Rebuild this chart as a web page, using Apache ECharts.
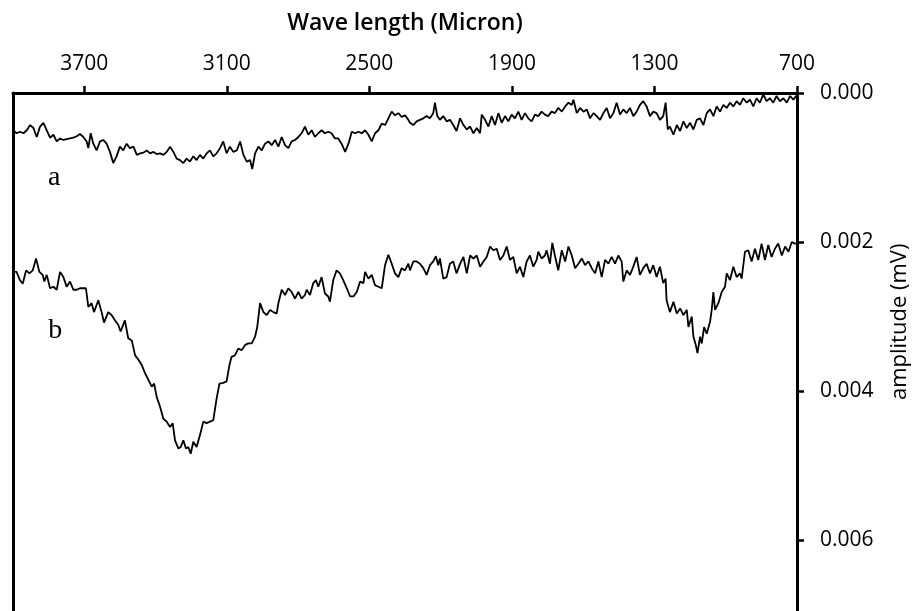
<!DOCTYPE html>
<html>
<head>
<meta charset="utf-8">
<script src="https://cdn.jsdelivr.net/npm/echarts@6/dist/echarts.min.js"></script>
<style>
html,body{margin:0;padding:0;background:#fff;}
#chart{width:914px;height:611px;}
</style>
</head>
<body>
<div id="chart"></div>
<script>
const xTitle = 'Wave length (Micron)';
const yTitle = 'amplitude (mV)';
const wavelengthTicks = [3700, 3100, 2500, 1900, 1300, 700];
const amplitudeTicks = [0, 0.002, 0.004, 0.006];
const curveLabels = ['a', 'b'];
const labelAnchors = [[3826, 0.00114], [3822, 0.00319]];

const seriesA = [
[4000,0.00050],[3985,0.00054],[3971,0.00052],[3956,0.00054],[3942,0.00050],[3928,0.00043],[3914,0.00047],[3900,0.00059],[3886,0.00045],[3872,0.00040],[3858,0.00050],[3844,0.00060],[3830,0.00056],[3816,0.00065],[3802,0.00061],[3788,0.00063],[3774,0.00062],[3760,0.00061],[3746,0.00060],[3732,0.00058],[3718,0.00055],[3704,0.00059],[3690,0.00065],[3683,0.00074],[3673,0.00054],[3662,0.00068],[3648,0.00077],[3634,0.00065],[3620,0.00063],[3606,0.00068],[3592,0.00079],[3578,0.00094],[3564,0.00085],[3550,0.00072],[3536,0.00077],[3522,0.00068],[3508,0.00074],[3493,0.00072],[3479,0.00083],[3465,0.00081],[3451,0.00080],[3437,0.00077],[3423,0.00081],[3409,0.00079],[3395,0.00082],[3381,0.00081],[3367,0.00083],[3353,0.00079],[3339,0.00072],[3325,0.00079],[3311,0.00088],[3297,0.00090],[3283,0.00094],[3269,0.00088],[3255,0.00092],[3241,0.00085],[3227,0.00090],[3213,0.00083],[3199,0.00088],[3185,0.00081],[3171,0.00077],[3157,0.00085],[3143,0.00081],[3129,0.00074],[3115,0.00065],[3101,0.00081],[3087,0.00072],[3073,0.00079],[3058,0.00077],[3044,0.00065],[3030,0.00083],[3016,0.00092],[3002,0.00090],[2993,0.00102],[2981,0.00081],[2967,0.00072],[2953,0.00077],[2939,0.00068],[2925,0.00065],[2911,0.00070],[2897,0.00063],[2883,0.00072],[2869,0.00059],[2855,0.00070],[2841,0.00074],[2827,0.00065],[2813,0.00063],[2799,0.00059],[2785,0.00054],[2771,0.00045],[2757,0.00056],[2743,0.00050],[2729,0.00059],[2715,0.00054],[2701,0.00050],[2687,0.00054],[2673,0.00052],[2659,0.00054],[2645,0.00061],[2631,0.00061],[2617,0.00068],[2602,0.00079],[2588,0.00068],[2574,0.00052],[2560,0.00054],[2546,0.00052],[2532,0.00054],[2518,0.00050],[2504,0.00056],[2490,0.00065],[2476,0.00054],[2462,0.00050],[2448,0.00041],[2434,0.00043],[2420,0.00034],[2406,0.00025],[2392,0.00030],[2378,0.00027],[2364,0.00032],[2350,0.00030],[2336,0.00036],
[2329,0.00040],[2315,0.00043],[2301,0.00038],[2287,0.00036],[2273,0.00034],[2259,0.00031],[2245,0.00034],[2231,0.00027],[2224,0.00013],[2214,0.00031],[2203,0.00036],[2189,0.00031],[2175,0.00038],[2161,0.00036],[2147,0.00043],[2133,0.00051],[2118,0.00034],[2104,0.00043],[2090,0.00049],[2076,0.00045],[2062,0.00054],[2048,0.00047],[2034,0.00054],[2027,0.00029],[2013,0.00036],[1999,0.00045],[1985,0.00031],[1971,0.00043],[1957,0.00027],[1943,0.00040],[1929,0.00031],[1915,0.00038],[1901,0.00029],[1887,0.00034],[1873,0.00025],[1859,0.00036],[1845,0.00027],[1831,0.00034],[1817,0.00038],[1803,0.00029],[1789,0.00031],[1775,0.00025],[1761,0.00029],[1747,0.00031],[1733,0.00025],[1719,0.00027],[1705,0.00020],[1690,0.00025],[1676,0.00018],[1662,0.00013],[1648,0.00016],[1641,0.00009],[1627,0.00027],[1613,0.00020],[1599,0.00025],[1585,0.00022],[1571,0.00034],[1557,0.00027],[1543,0.00031],[1529,0.00036],[1515,0.00027],[1501,0.00020],[1487,0.00034],[1473,0.00027],[1459,0.00013],[1445,0.00029],[1431,0.00022],[1417,0.00027],[1403,0.00020],[1389,0.00031],[1375,0.00025],[1361,0.00016],[1347,0.00011],[1333,0.00018],[1319,0.00031],[1305,0.00025],[1291,0.00027],[1277,0.00036],[1263,0.00031],[1253,0.00013],[1244,0.00049],[1235,0.00045],[1220,0.00056],[1206,0.00043],[1192,0.00051],[1178,0.00038],[1164,0.00047],[1150,0.00040],[1136,0.00049],[1122,0.00036],[1108,0.00034],[1094,0.00043],[1080,0.00027],[1066,0.00022],[1052,0.00031],[1038,0.00018],[1024,0.00025],[1010,0.00016],[996,0.00020],[982,0.00013],[968,0.00018],[954,0.00011],[940,0.00016],[926,0.00007],[912,0.00013],[898,0.00009],[884,0.00018],[870,0.00007],[856,0.00013],[842,0.00002],[828,0.00011],[814,0.00007],[800,0.00013],[786,0.00004],[772,0.00011],[757,0.00007],[743,0.00013],[729,0.00004],[715,0.00009],[704,0.00004],[700,0.00006]
];

const seriesB = [
[4000,0.00240],[3985,0.00240],[3971,0.00251],[3959,0.00256],[3945,0.00238],[3931,0.00242],[3917,0.00238],[3903,0.00222],[3889,0.00240],[3875,0.00244],[3868,0.00253],[3858,0.00244],[3844,0.00262],[3830,0.00260],[3816,0.00264],[3802,0.00240],[3788,0.00247],[3774,0.00260],[3760,0.00253],[3746,0.00264],[3732,0.00264],[3718,0.00262],[3704,0.00262],[3693,0.00262],[3683,0.00287],[3669,0.00282],[3659,0.00294],[3641,0.00278],[3627,0.00294],[3617,0.00308],[3599,0.00294],[3585,0.00298],[3571,0.00305],[3557,0.00311],[3547,0.00320],[3529,0.00305],[3515,0.00329],[3500,0.00332],[3486,0.00352],[3472,0.00358],[3458,0.00365],[3444,0.00376],[3430,0.00385],[3416,0.00394],[3406,0.00390],[3395,0.00408],[3381,0.00421],[3367,0.00437],[3353,0.00441],[3339,0.00448],[3328,0.00443],[3318,0.00466],[3304,0.00477],[3294,0.00475],[3283,0.00466],[3272,0.00477],[3262,0.00475],[3252,0.00484],[3241,0.00468],[3227,0.00475],[3213,0.00459],[3199,0.00441],[3185,0.00443],[3171,0.00441],[3157,0.00439],[3143,0.00410],[3131,0.00390],[3115,0.00389],[3101,0.00387],[3089,0.00365],[3080,0.00354],[3066,0.00352],[3052,0.00343],[3037,0.00345],[3023,0.00338],[3009,0.00336],[2995,0.00336],[2981,0.00327],[2972,0.00314],[2960,0.00282],[2946,0.00294],[2932,0.00298],[2918,0.00291],[2904,0.00294],[2890,0.00296],[2883,0.00282],[2869,0.00264],[2855,0.00271],[2841,0.00262],[2827,0.00267],[2813,0.00276],[2799,0.00267],[2785,0.00276],[2771,0.00271],[2764,0.00264],[2750,0.00271],[2736,0.00255],[2725,0.00251],[2715,0.00260],[2701,0.00247],[2687,0.00269],[2673,0.00273],[2666,0.00280],[2652,0.00251],[2638,0.00238],[2624,0.00242],[2610,0.00251],[2595,0.00262],[2581,0.00273],[2567,0.00273],[2553,0.00267],[2539,0.00253],[2525,0.00255],[2518,0.00240],[2504,0.00249],[2490,0.00244],[2476,0.00258],[2462,0.00260],[2448,0.00262],[2434,0.00231],[2420,0.00217],[2406,0.00229],[2392,0.00242],[2378,0.00247],[2364,0.00235],[2350,0.00238],[2336,0.00229],
[2329,0.00238],[2315,0.00226],[2301,0.00226],[2287,0.00229],[2273,0.00235],[2259,0.00244],[2245,0.00231],[2231,0.00226],[2220,0.00219],[2210,0.00231],[2203,0.00222],[2189,0.00249],[2175,0.00247],[2161,0.00229],[2147,0.00226],[2133,0.00242],[2118,0.00229],[2104,0.00220],[2090,0.00242],[2076,0.00218],[2062,0.00222],[2048,0.00218],[2034,0.00233],[2020,0.00226],[2006,0.00220],[1992,0.00206],[1978,0.00211],[1964,0.00209],[1950,0.00224],[1936,0.00218],[1922,0.00206],[1908,0.00224],[1894,0.00220],[1880,0.00242],[1866,0.00233],[1852,0.00247],[1838,0.00226],[1824,0.00218],[1810,0.00233],[1796,0.00224],[1789,0.00213],[1775,0.00222],[1761,0.00218],[1754,0.00211],[1740,0.00229],[1730,0.00201],[1719,0.00218],[1705,0.00238],[1690,0.00211],[1676,0.00226],[1662,0.00206],[1648,0.00218],[1634,0.00235],[1620,0.00229],[1606,0.00222],[1592,0.00231],[1578,0.00226],[1564,0.00235],[1550,0.00242],[1536,0.00226],[1522,0.00247],[1508,0.00224],[1494,0.00229],[1480,0.00220],[1466,0.00229],[1452,0.00218],[1438,0.00226],[1431,0.00253],[1417,0.00238],[1403,0.00244],[1389,0.00233],[1375,0.00220],[1361,0.00244],[1347,0.00235],[1333,0.00229],[1319,0.00242],[1305,0.00231],[1291,0.00247],[1277,0.00233],[1263,0.00255],[1253,0.00249],[1249,0.00278],[1235,0.00294],[1220,0.00280],[1206,0.00296],[1192,0.00289],[1178,0.00298],[1164,0.00291],[1157,0.00314],[1143,0.00300],[1136,0.00327],[1126,0.00338],[1119,0.00349],[1108,0.00327],[1101,0.00336],[1091,0.00314],[1080,0.00323],[1066,0.00307],[1059,0.00291],[1052,0.00267],[1045,0.00291],[1031,0.00282],[1017,0.00267],[1003,0.00260],[996,0.00242],[982,0.00251],[968,0.00233],[954,0.00247],[940,0.00242],[933,0.00249],[919,0.00213],[905,0.00211],[891,0.00226],[877,0.00209],[863,0.00224],[849,0.00202],[835,0.00224],[821,0.00204],[807,0.00220],[793,0.00209],[779,0.00202],[764,0.00218],[750,0.00206],[736,0.00213],[722,0.00200],[708,0.00202],[700,0.00202]
];

const chart = echarts.init(document.getElementById('chart'), null, {renderer: 'canvas'});
const font = 'Open Sans';
const option = {
  animation: false,
  backgroundColor: '#fff',
  grid: {left: 13, right: 117, top: 93, bottom: 0, containLabel: false},
  xAxis: {
    type: 'value', position: 'top', inverse: true,
    min: 700, max: 4000, interval: 600,
    name: xTitle, nameLocation: 'middle', nameGap: 58,
    nameTextStyle: {fontFamily: font, fontSize: 23, fontWeight: 600, color: '#000'},
    axisLine: {show: true, onZero: false, lineStyle: {color: '#000', width: 3}},
    axisTick: {show: true, inside: false, length: 7, lineStyle: {color: '#000', width: 2.5}, customValues: wavelengthTicks},
    axisLabel: {fontFamily: font, fontSize: 21, color: '#000', margin: 18, customValues: wavelengthTicks,
      formatter: v => String(v)},
    splitLine: {show: false}
  },
  yAxis: [{
    type: 'value', position: 'right', inverse: true,
    min: 0, max: 0.00695,
    axisLine: {show: true, onZero: false, lineStyle: {color: '#000', width: 3}},
    axisTick: {show: true, inside: false, length: 7, lineStyle: {color: '#000', width: 2.5}, customValues: amplitudeTicks},
    axisLabel: {fontFamily: font, fontSize: 21, color: '#000', margin: 23, customValues: amplitudeTicks,
      formatter: v => v.toFixed(3)},
    splitLine: {show: false}
  }, {
    type: 'value', position: 'left', inverse: true,
    min: 0, max: 0.00695,
    axisLine: {show: true, onZero: false, lineStyle: {color: '#000', width: 3}},
    axisTick: {show: false}, axisLabel: {show: false}, splitLine: {show: false}
  }],
  series: [
    {type: 'line', name: 'a', data: seriesA, showSymbol: false, symbol: 'none',
     lineStyle: {color: '#000', width: 1.8}, yAxisIndex: 0},
    {type: 'line', name: 'b', data: seriesB, showSymbol: false, symbol: 'none',
     lineStyle: {color: '#000', width: 1.8}, yAxisIndex: 0}
  ]
};
chart.setOption(option);

const gfx = curveLabels.map((t, i) => {
  const p = chart.convertToPixel({xAxisIndex: 0, yAxisIndex: 0}, labelAnchors[i]);
  return {type: 'text', x: p[0], y: p[1],
    style: {text: t, fontFamily: 'Liberation Serif', fontSize: 28, fill: '#000', align: 'center', verticalAlign: 'middle'}};
});
const axisEnd = chart.convertToPixel({xAxisIndex: 0}, 700);
const midAmp = chart.convertToPixel({yAxisIndex: 0}, 0.00307);
gfx.push({type: 'text', x: axisEnd + 103, y: midAmp, rotation: Math.PI / 2,
  style: {text: yTitle, fontFamily: font, fontSize: 22, fill: '#000', align: 'center', verticalAlign: 'middle'}});
chart.setOption({graphic: gfx});
</script>
</body>
</html>
